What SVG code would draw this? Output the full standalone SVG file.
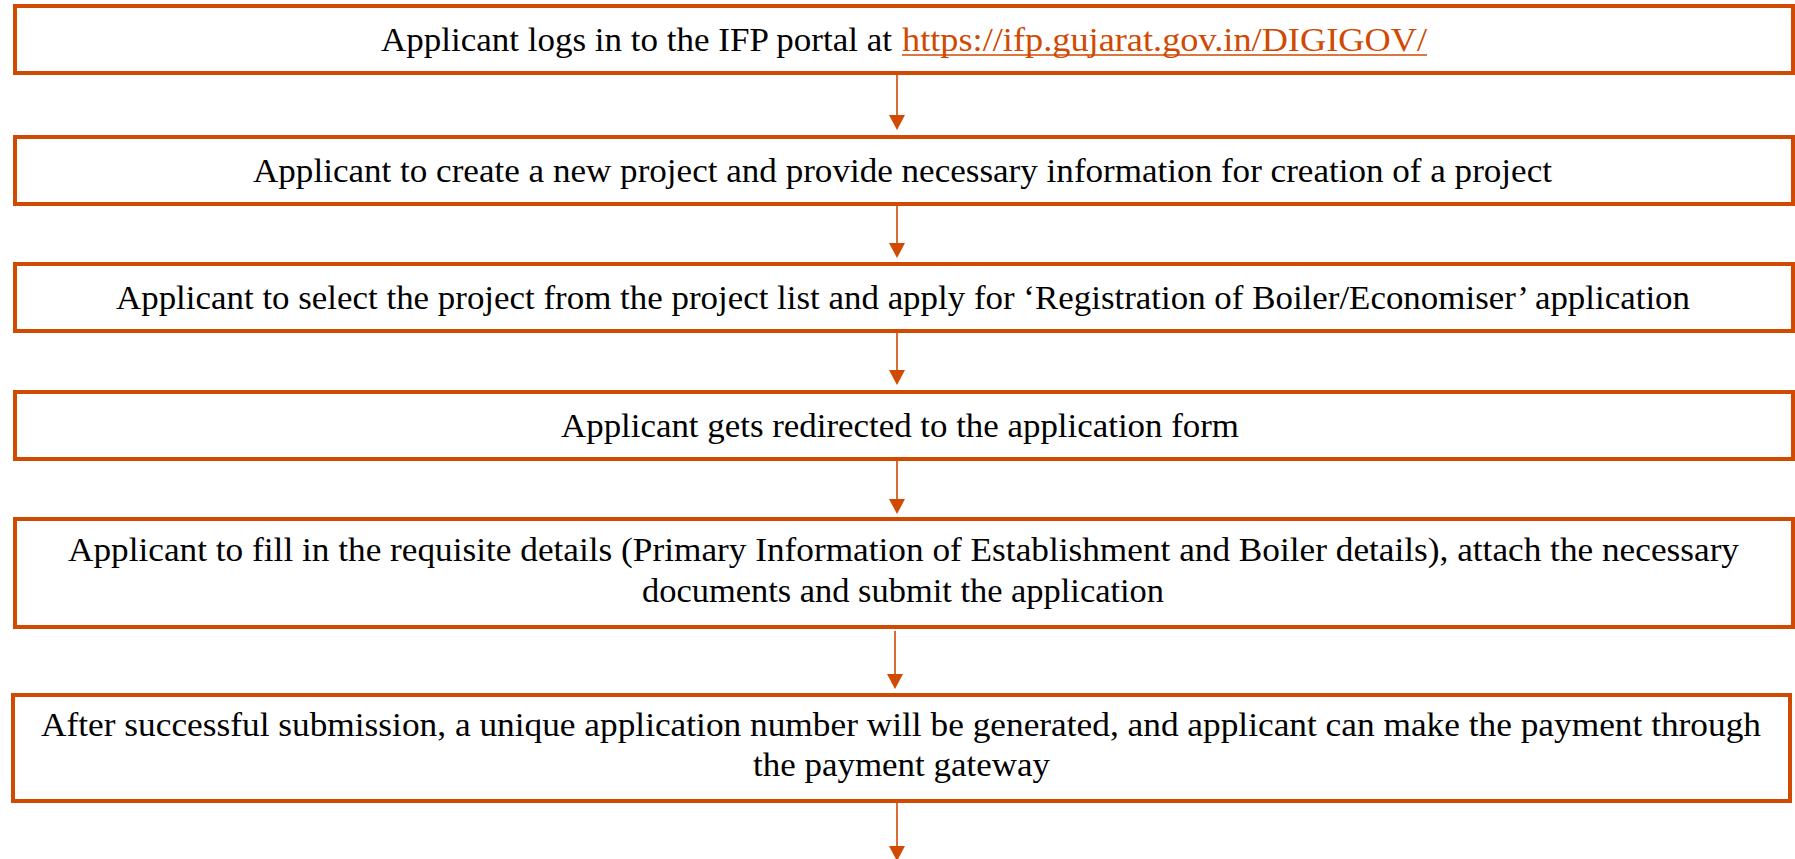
<svg xmlns="http://www.w3.org/2000/svg" width="1795" height="859" viewBox="0 0 1795 859">
<style>
.box{fill:#fff;stroke:#D04A02;stroke-width:4}
.t{font-family:"Liberation Serif","Times New Roman",serif;font-size:34px;fill:#000}
.link{fill:#D04A02}
.c{stroke:#D04A02;stroke-width:1.6;fill:none}
.h{fill:#D04A02}
</style>
<rect width="1795" height="859" fill="#fff"/>
<g id="connectors">
<line class="c" x1="897" y1="75" x2="897" y2="118"/><polygon class="h" points="889,115 905,115 897,130"/>
<line class="c" x1="897" y1="206" x2="897" y2="246"/><polygon class="h" points="889,243 905,243 897,258"/>
<line class="c" x1="897" y1="333" x2="897" y2="373"/><polygon class="h" points="889,370 905,370 897,385"/>
<line class="c" x1="897" y1="461" x2="897" y2="502"/><polygon class="h" points="889,499 905,499 897,514"/>
<line class="c" x1="895" y1="631" x2="895" y2="677"/><polygon class="h" points="887,674 903,674 895,689"/>
<line class="c" x1="897" y1="803" x2="897" y2="849"/><polygon class="h" points="889,846 905,846 897,861"/>
</g>
<g id="n1">
<rect class="box" x="15" y="6" width="1778" height="67"/>
<text class="t" x="381" y="51" textLength="511" lengthAdjust="spacingAndGlyphs">Applicant logs in to the IFP portal at</text>
<text class="t link" x="902" y="51" textLength="525" lengthAdjust="spacingAndGlyphs">https://ifp.gujarat.gov.in/DIGIGOV/</text>
<line x1="902" y1="55" x2="1427" y2="55" stroke="#D04A02" stroke-width="1.6"/>
</g>
<g id="n2">
<rect class="box" x="15" y="137" width="1778" height="67"/>
<text class="t" x="253" y="182" textLength="1299" lengthAdjust="spacingAndGlyphs">Applicant to create a new project and provide necessary information for creation of a project</text>
</g>
<g id="n3">
<rect class="box" x="15" y="264" width="1778" height="67"/>
<text class="t" x="116" y="309" textLength="1574" lengthAdjust="spacingAndGlyphs">Applicant to select the project from the project list and apply for ‘Registration of Boiler/Economiser’ application</text>
</g>
<g id="n4">
<rect class="box" x="15" y="392" width="1778" height="67"/>
<text class="t" x="561" y="437" textLength="678" lengthAdjust="spacingAndGlyphs">Applicant gets redirected to the application form</text>
</g>
<g id="n5">
<rect class="box" x="15" y="519" width="1778" height="108"/>
<text class="t" x="68" y="561" textLength="1671" lengthAdjust="spacingAndGlyphs">Applicant to fill in the requisite details (Primary Information of Establishment and Boiler details), attach the necessary</text>
<text class="t" x="903" y="602" text-anchor="middle" textLength="522" lengthAdjust="spacingAndGlyphs">documents and submit the application</text>
</g>
<g id="n6">
<rect class="box" x="13" y="695" width="1777" height="106"/>
<text class="t" x="41" y="736" textLength="1720" lengthAdjust="spacingAndGlyphs">After successful submission, a unique application number will be generated, and applicant can make the payment through</text>
<text class="t" x="901.5" y="776" text-anchor="middle" textLength="297" lengthAdjust="spacingAndGlyphs">the payment gateway</text>
</g>
</svg>
